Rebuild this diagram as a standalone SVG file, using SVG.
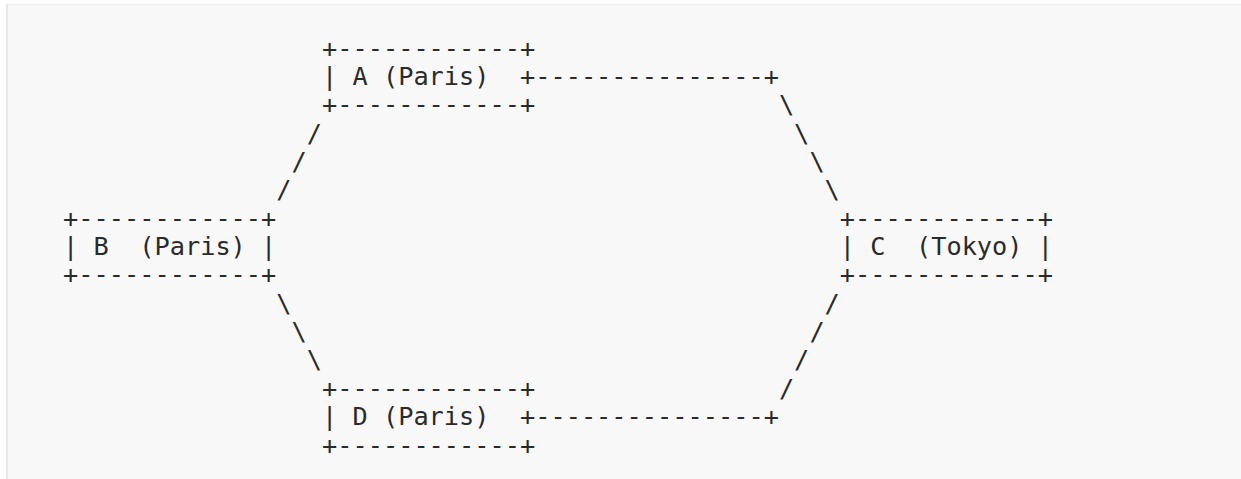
<svg xmlns="http://www.w3.org/2000/svg" width="1241" height="479" viewBox="0 0 1241 479">
<style>
text { font-family: "DejaVu Sans Mono", "Liberation Mono", monospace; font-size: 25.3px; fill: #2a2a2a; white-space: pre; }
</style>
<rect x="0" y="0" width="1241" height="479" fill="#ffffff"/>
<rect x="6" y="4" width="1235" height="475" fill="#f8f8f8"/>
<line x1="6" y1="4.5" x2="1241" y2="4.5" stroke="#efefef" stroke-width="1.5"/>
<line x1="7" y1="4" x2="7" y2="479" stroke="#e6e6e6" stroke-width="2"/>
<g id="node-A">
<text x="322.0" y="56.7" xml:space="preserve">+------------+</text>
<text x="322.0" y="85.0" xml:space="preserve">| A (Paris)  +</text>
<text x="322.0" y="113.4" xml:space="preserve">+------------+</text>
</g>
<g id="node-B">
<text x="63.1" y="226.7" xml:space="preserve">+------------+</text>
<text x="63.1" y="255.1" xml:space="preserve">| B  (Paris) |</text>
<text x="63.1" y="283.4" xml:space="preserve">+------------+</text>
</g>
<g id="node-C">
<text x="839.8" y="226.7" xml:space="preserve">+------------+</text>
<text x="839.8" y="255.1" xml:space="preserve">| C  (Tokyo) |</text>
<text x="839.8" y="283.4" xml:space="preserve">+------------+</text>
</g>
<g id="node-D">
<text x="322.0" y="396.8" xml:space="preserve">+------------+</text>
<text x="322.0" y="425.1" xml:space="preserve">| D (Paris)  +</text>
<text x="322.0" y="453.5" xml:space="preserve">+------------+</text>
</g>
<g id="connectors">
<text x="535.2" y="85.0" xml:space="preserve">---------------+</text>
<text x="778.9" y="113.4">\</text>
<text x="794.1" y="141.7">\</text>
<text x="809.4" y="170.1">\</text>
<text x="824.6" y="198.4">\</text>
<text x="306.8" y="141.7">/</text>
<text x="291.55" y="170.1">/</text>
<text x="276.3" y="198.4">/</text>
<text x="276.3" y="311.8">\</text>
<text x="291.55" y="340.1">\</text>
<text x="306.8" y="368.4">\</text>
<text x="824.6" y="311.8">/</text>
<text x="809.4" y="340.1">/</text>
<text x="794.1" y="368.4">/</text>
<text x="778.9" y="396.8">/</text>
<text x="535.2" y="425.1" xml:space="preserve">---------------+</text>
</g>
</svg>
